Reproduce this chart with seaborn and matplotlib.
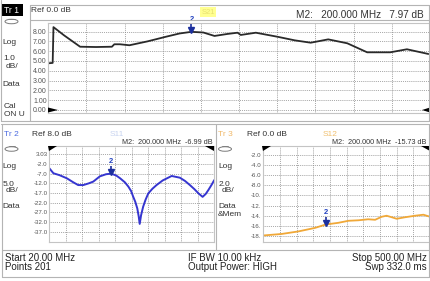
import numpy as np
import pandas as pd
import matplotlib
matplotlib.use("Agg")
import matplotlib.pyplot as plt
import matplotlib.transforms as mtransforms
from matplotlib.patches import Polygon, Ellipse, Rectangle
import seaborn as sns

# ---------------- data ----------------
s21_freq = [20, 25.5, 26.5, 40, 60, 80, 100, 103, 110, 122, 145, 168, 185, 200,
            215, 229, 245, 258, 262, 281, 308, 330, 350, 372, 396, 421, 450, 471, 498]
s21_db = [4.76, 4.8, 8.45, 7.6, 6.45, 6.42, 6.45, 6.7, 6.7, 6.6, 7.0, 7.47, 7.8, 7.97,
          7.9, 7.55, 7.75, 7.88, 7.65, 7.88, 7.47, 7.1, 6.86, 7.2, 6.8, 5.88, 5.88, 6.19, 5.71]

s11_freq = [20, 32, 50, 71, 90, 104, 119, 135, 148, 167, 185, 200, 215, 226, 240, 250,
            258, 264, 270, 276, 280, 283, 287, 293, 300, 308, 320, 332, 350, 376, 400,
            415, 429, 442, 454, 466, 475, 483, 492, 500]
s11_db = [-4.2, -6.8, -7.8, -9.4, -11.5, -12.9, -12.9, -12.0, -11.1, -8.4, -7.3, -6.99,
          -8.0, -9.4, -11.5, -13.7, -16.0, -18.9, -21.5, -25.0, -29.0, -33.0, -28.5, -24.1,
          -20.5, -17.2, -14.8, -12.9, -10.5, -8.2, -9.1, -10.8, -12.9, -15.0, -17.2, -19.0,
          -17.5, -15.4, -12.8, -10.3]

s12_freq = [20, 73, 121, 169, 200, 236, 265, 294, 322, 342, 361, 375, 390, 404, 428, 457, 481, 500]
s12_db = [-17.9, -17.6, -17.1, -16.4, -15.73, -15.4, -15.0, -14.9, -14.7, -14.8, -14.2,
          -14.0, -14.3, -14.6, -14.3, -14.0, -13.8, -14.2]

top_ticks = [0, 1, 2, 3, 4, 5, 6, 7, 8]
top_labels = ["0.00", "1.00", "2.00", "3.00", "4.00", "5.00", "6.00", "7.00", "8.00"]
s11_ticks = [3, -2, -7, -12, -17, -22, -27, -32, -37]
s11_labels = ["3.03", "-2.0", "-7.0", "-12.0", "-17.0", "-22.0", "-27.0", "-32.0", "-37.0"]
s12_ticks = [-2, -4, -6, -8, -10, -12, -14, -16, -18]
s12_labels = ["-2.0", "-4.0", "-6.0", "-8.0", "-10.", "-12.", "-14.", "-16.", "-18."]
grid_freq = [20, 68, 116, 164, 212, 260, 308, 356, 404, 452, 500]
marker_freq = 200

# ---------------- figure ----------------
sns.set_style("white")
plt.rcParams['font.family'] = ['Liberation Sans', 'DejaVu Sans']
W, H = 430, 281
fig = plt.figure(figsize=(W / 100, H / 100), dpi=100)
fig.patch.set_facecolor("white")


def box(x0, y0, x1, y1):
    return [x0 / W, 1 - y1 / H, (x1 - x0) / W, (y1 - y0) / H]


def style(ax, xlim, ylim, ticks, labels, fs):
    ax.set_xlim(*xlim)
    ax.set_ylim(*ylim)
    ax.set_xticks(grid_freq)
    ax.set_xticklabels([])
    ax.set_yticks(ticks)
    ax.set_yticklabels(labels, fontsize=fs, color="#555555")
    ax.tick_params(length=0, pad=1.2)
    ax.grid(True, linestyle=(0, (1, 1.3)), color="#8a8a8a", lw=0.6)
    for s in ax.spines.values():
        s.set_color("#c4c4c4")
        s.set_linewidth(0.8)
    ax.set_xlabel("")
    ax.set_ylabel("")
    ax.patch.set_alpha(0)


def add_marker(ax, f, v, dy):
    tr = mtransforms.offset_copy(ax.transData, fig=fig, x=0, y=dy, units="points")
    ax.plot([f], [v], marker="v", ms=4.2, color="#1c2f9c", transform=tr, zorder=5)
    tr2 = mtransforms.offset_copy(ax.transData, fig=fig, x=0, y=dy + 3.2, units="points")
    ax.plot([f], [v], marker="|", ms=3, mew=1.2, color="#1c2f9c", transform=tr2, zorder=5)
    tr3 = mtransforms.offset_copy(ax.transData, fig=fig, x=0, y=dy + 5.0, units="points")
    ax.text(f, v, "2", transform=tr3, ha="center", va="bottom", fontsize=5.5,
            color="#2040c0", fontweight="bold")


# top panel: S21
ax1 = fig.add_axes(box(48.3, 23, 430, 113))
df1 = pd.DataFrame({"f": s21_freq, "db": s21_db})
sns.lineplot(data=df1, x="f", y="db", ax=ax1, color="#2a2a2a", lw=1.3)
style(ax1, (20, 498), (-0.31, 8.87), top_ticks, top_labels, 5.0)
add_marker(ax1, marker_freq, 7.97, 1.0)

# bottom left: S11
ax2 = fig.add_axes(box(49.3, 146, 214.3, 242.3))
df2 = pd.DataFrame({"f": s11_freq, "db": s11_db})
sns.lineplot(data=df2, x="f", y="db", ax=ax2, color="#3636d0", lw=1.4)
style(ax2, (20, 500), (-42.5, 7.3), s11_ticks, s11_labels, 4.4)
add_marker(ax2, marker_freq, -6.99, 1.0)

# bottom right: S12
ax3 = fig.add_axes(box(263.3, 146, 430, 242.3))
df3 = pd.DataFrame({"f": s12_freq, "db": s12_db})
sns.lineplot(data=df3, x="f", y="db", ax=ax3, color="#f0a838", lw=1.3)
style(ax3, (20, 500), (-19.25, -0.22), s12_ticks, s12_labels, 4.4)
add_marker(ax3, marker_freq, -15.73, 1.0)

# ---------------- overlay (frames, annotations) ----------------
ov = fig.add_axes([0, 0, 1, 1])
ov.set_xlim(0, W)
ov.set_ylim(H, 0)
ov.axis("off")
ov.patch.set_alpha(0)
lc = "#b4b4b4"


def hline(y, x0, x1, c=lc, lw=0.8):
    ov.plot([x0, x1], [y, y], color=c, lw=lw)


def vline(x, y0, y1, c=lc, lw=0.8):
    ov.plot([x, x], [y0, y1], color=c, lw=lw)


# top panel frame
hline(5, 30, 429)
hline(20, 30, 429)
hline(121, 1, 429)
vline(30, 5, 121)
vline(1, 0, 121)
vline(429, 5, 121)
# bottom frames
hline(124, 1, 429)
vline(2, 124, 277)
vline(215.5, 124, 250)
vline(429, 124, 277)
hline(250, 2, 429)
hline(277, 2, 429)

# reference arrows
tri = [
    [(48, 107.5), (58, 110), (48, 112.5)],
    [(430, 107.5), (422, 110), (430, 112.5)],
    [(48, 146), (57, 146), (49, 151)],
    [(205, 146), (214, 146), (214, 151)],
    [(262, 146), (271, 146), (263, 151)],
    [(421, 146), (430, 146), (430, 151)],
]
for t in tri:
    ov.add_patch(Polygon(t, closed=True, color="black", lw=0))

# small "on/off" icons drawn as shapes
for (cx, cy) in [(11.5, 21.5), (11.5, 149), (225, 149)]:
    ov.add_patch(Ellipse((cx, cy), 13, 4.5, fill=False, ec="#7a7a7a", lw=0.7))
    ov.plot([cx - 3, cx + 3], [cy - 2.8, cy - 2.8], color="#7a7a7a", lw=0.6)

# top panel texts
ov.add_patch(Rectangle((1, 4), 22, 12, color="black", lw=0))
ov.text(4, 10.2, "Tr 1", fontsize=6.2, color="white", va="center", ha="left")
ov.text(31, 11, "Ref 0.0 dB", fontsize=6, color="#333333", va="center")
ov.text(208, 12, "S21", fontsize=5.5, color="#e8e070", va="center", ha="center",
        bbox=dict(boxstyle="square,pad=0.2", fc="#ffff90", ec="none"))
ov.text(424, 15, "M2:   200.000 MHz   7.97 dB", fontsize=7.2, color="#333333",
        va="center", ha="right")
ov.text(2, 43, "Log", fontsize=6, color="#333333", va="center")
ov.text(3, 58, "1.0", fontsize=6, color="#333333", va="center")
ov.text(6, 66, "dB/", fontsize=6, color="#333333", va="center")
ov.text(2, 85, "Data", fontsize=6, color="#333333", va="center")
ov.text(4, 107, "Cal", fontsize=6, color="#333333", va="center")
ov.text(4, 115, "ON U", fontsize=6, color="#333333", va="center")

# bottom left texts
ov.text(4, 134, "Tr 2", fontsize=6, color="#4a6ae0", va="center")
ov.text(32, 134, "Ref 8.0 dB", fontsize=6, color="#333333", va="center")
ov.text(110, 135, "S11", fontsize=6, color="#c8d4f0", va="center")
ov.text(213, 143, "M2:  200.000 MHz  -6.99 dB", fontsize=5.2, color="#333333",
        va="center", ha="right")
ov.text(2, 167, "Log", fontsize=6, color="#333333", va="center")
ov.text(3, 184, "5.0", fontsize=6, color="#333333", va="center")
ov.text(6, 191, "dB/", fontsize=6, color="#333333", va="center")
ov.text(2, 207, "Data", fontsize=6, color="#333333", va="center")

# bottom right texts
ov.text(218, 134, "Tr 3", fontsize=6, color="#f0b868", va="center")
ov.text(247, 134, "Ref 0.0 dB", fontsize=6, color="#333333", va="center")
ov.text(323, 135, "S12", fontsize=6, color="#f0c070", va="center")
ov.text(426, 143, "M2:  200.000 MHz  -15.73 dB", fontsize=5.2, color="#333333",
        va="center", ha="right")
ov.text(218, 167, "Log", fontsize=6, color="#333333", va="center")
ov.text(219, 184, "2.0", fontsize=6, color="#333333", va="center")
ov.text(222, 191, "dB/", fontsize=6, color="#333333", va="center")
ov.text(218, 207, "Data", fontsize=6, color="#333333", va="center")
ov.text(218, 215, "&Mem", fontsize=6, color="#333333", va="center")

# footer
ffs = 7.0
ov.text(5, 258, "Start 20.00 MHz", fontsize=ffs, color="#222222", va="center")
ov.text(5, 267.5, "Points 201", fontsize=ffs, color="#222222", va="center")
ov.text(188, 258, "IF BW 10.00 kHz", fontsize=ffs, color="#222222", va="center")
ov.text(188, 267.5, "Output Power: HIGH", fontsize=ffs, color="#222222", va="center")
ov.text(427, 258, "Stop 500.00 MHz", fontsize=ffs, color="#222222", va="center", ha="right")
ov.text(427, 267.5, "Swp 332.0 ms", fontsize=ffs, color="#222222", va="center", ha="right")

fig.savefig("out.png", dpi=100)
